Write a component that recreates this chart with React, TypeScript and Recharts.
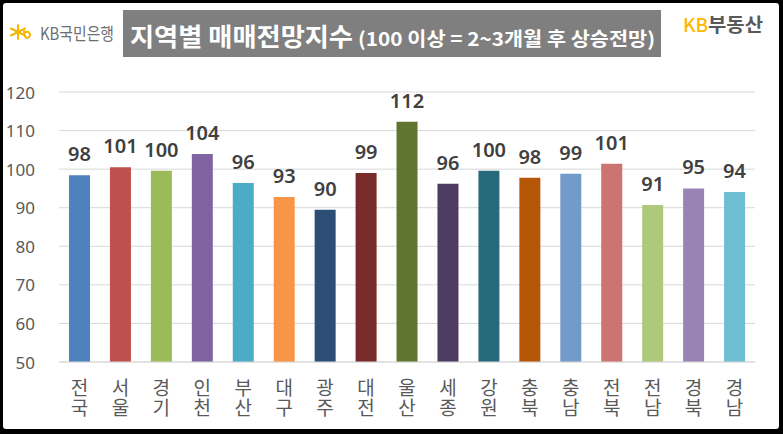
import React from 'react';
import { BarChart, Bar, XAxis, YAxis, CartesianGrid, LabelList, Cell } from 'recharts';

const regions = ['전국', '서울', '경기', '인천', '부산', '대구', '광주', '대전', '울산', '세종', '강원', '충북', '충남', '전북', '전남', '경북', '경남'];
const indexValues = [98.4, 100.5, 99.6, 103.9, 96.4, 92.8, 89.5, 99.0, 112.3, 96.2, 99.6, 97.8, 98.8, 101.4, 90.7, 95.0, 94.1];
const barColors = ['#4F81BD', '#C0504D', '#9BBB59', '#8064A2', '#4BACC6', '#F79646', '#2C4D75', '#772C2A', '#5F7530', '#4D3B62', '#276A7C', '#B65708', '#729ACA', '#CD7371', '#AFC97A', '#9983B5', '#6FBDD1'];
const yTicks = [50, 60, 70, 80, 90, 100, 110, 120];

const titleMain = '지역별 매매전망지수';
const titleSub = '(100 이상 = 2~3개월 후 상승전망)';

const data = regions.map((r, i) => ({ name: r, value: indexValues[i] }));

const KR = '"Noto Sans CJK KR", "Noto Sans", sans-serif';

const XTick = (props: any) => {
  const { x, y, payload } = props;
  return (
    <text
      x={x}
      y={y + 8}
      fontSize={19}
      fill="#595959"
      fontFamily={KR}
      letterSpacing={1}
      style={{ writingMode: 'vertical-rl', textOrientation: 'upright' } as any}
    >
      {payload.value}
    </text>
  );
};

const YTick = (props: any) => {
  const { y, payload } = props;
  return (
    <text x={35} y={y} textAnchor="end" dominantBaseline="central" fontSize={17} fill="#595959" fontFamily='"Noto Sans", sans-serif'>
      {payload.value}
    </text>
  );
};

export default function App() {
  return (
    <div style={{ position: 'absolute', left: 0, top: 0, width: 783, height: 434, background: '#000' }}>
      <div style={{ position: 'absolute', left: 3, top: 3, width: 776, height: 426, background: '#fff', borderRadius: 3 }} />
      <div style={{ position: 'absolute', left: 0, top: 0 }}>
        <BarChart width={783} height={434} data={data} margin={{ top: 92, right: 28, bottom: 0, left: 0 }}>
          <CartesianGrid vertical={false} stroke="#d9d9d9" strokeWidth={1} />
          <XAxis dataKey="name" height={72} tickLine={false} axisLine={{ stroke: '#d9d9d9' }} tick={<XTick />} interval={0} />
          <YAxis width={59} domain={[50, 120]} ticks={yTicks} tickLine={false} axisLine={false} tick={<YTick />} allowDataOverflow />
          <Bar dataKey="value" barSize={21} isAnimationActive={false}>
            {data.map((d, i) => (
              <Cell key={d.name} fill={barColors[i]} />
            ))}
            <LabelList
              dataKey="value"
              position="top"
              offset={14}
              formatter={(v: any) => Math.round(Number(v))}
              fill="#404040"
              fontSize={20}
              fontWeight={600}
              fontFamily='"Noto Sans", sans-serif'
            />
          </Bar>
        </BarChart>
      </div>
      <svg width={783} height={434} style={{ position: 'absolute', left: 0, top: 0, pointerEvents: 'none' }}>
        {/* KB Kookmin Bank logo */}
        <g stroke="#F7B500" strokeWidth={2} fill="none" strokeLinecap="round">
          <line x1={18} y1={25} x2={18} y2={39} />
          <line x1={11} y1={28.5} x2={25} y2={35.5} />
          <line x1={11} y1={35.5} x2={25} y2={28.5} />
          <path d="M24 31 Q 24 39 28.5 37.5 Q 31.5 35 28.5 32 Q 26 31 24 33.5" />
        </g>
        <text x={40} y={40} fontSize={17} fill="#6d6e71" fontFamily={KR} textLength={74} lengthAdjust="spacingAndGlyphs">KB국민은행</text>
        {/* Title banner */}
        <rect x={123} y={10} width={538} height={47} fill="#7f7f7f" />
        <text x={130} y={46} fontSize={25} fontWeight={700} fill="#fff" fontFamily={KR} textLength={223} lengthAdjust="spacingAndGlyphs">{titleMain}</text>
        <text x={358} y={46} fontSize={19} fontWeight={700} fill="#fff" fontFamily={KR} textLength={297} lengthAdjust="spacingAndGlyphs">{titleSub}</text>
        {/* KB 부동산 logo */}
        <text x={683} y={32} fontSize={19} fontWeight={500} fill="#FFB800" fontFamily={KR}>KB</text>
        <text x={708} y={32} fontSize={19} fontWeight={700} fill="#595959" fontFamily={KR} textLength={55} lengthAdjust="spacingAndGlyphs">부동산</text>
      </svg>
    </div>
  );
}
